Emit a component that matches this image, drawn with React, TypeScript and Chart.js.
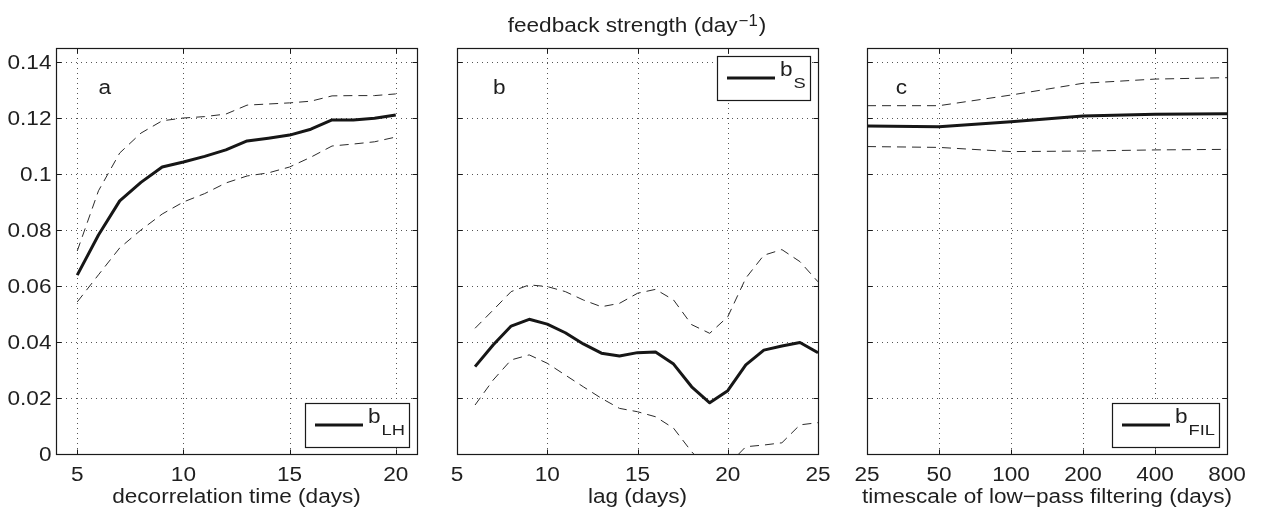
import React, { useEffect, useRef } from "react";
import { Chart, registerables } from "chart.js";

Chart.register(...registerables);

// ---------------- data ----------------
const yTickValues = [0, 0.02, 0.04, 0.06, 0.08, 0.1, 0.12, 0.14];
const yTickLabels = ["0", "0.02", "0.04", "0.06", "0.08", "0.1", "0.12", "0.14"];

// panel a
const decorrelationTime = [5, 6, 7, 8, 9, 10, 11, 12, 13, 14, 15, 16, 17, 18, 19, 20];
const bLH = [0.0639, 0.0782, 0.0904, 0.0970, 0.1025, 0.1043, 0.1063, 0.1086, 0.1118, 0.1128, 0.1139, 0.1160, 0.1193, 0.1193, 0.1199, 0.1211];
const bLHUpper = [0.0725, 0.0940, 0.1075, 0.1146, 0.1190, 0.1200, 0.1205, 0.1214, 0.1246, 0.1250, 0.1254, 0.1260, 0.1279, 0.1280, 0.1280, 0.1286];
const bLHLower = [0.0543, 0.0640, 0.0736, 0.0800, 0.0857, 0.0900, 0.0930, 0.0968, 0.0993, 0.1004, 0.1025, 0.1060, 0.1100, 0.1107, 0.1115, 0.1132];
const decorrelationTicks = [5, 10, 15, 20];
const decorrelationTickLabels = ["5", "10", "15", "20"];

// panel b
const lagDays = [6, 7, 8, 9, 10, 11, 12, 13, 14, 15, 16, 17, 18, 19, 20, 21, 22, 23, 24, 25];
const bS = [0.0312, 0.0389, 0.0457, 0.0481, 0.0464, 0.0433, 0.0393, 0.0360, 0.0350, 0.0362, 0.0364, 0.0321, 0.0240, 0.0183, 0.0226, 0.0318, 0.0371, 0.0386, 0.0398, 0.0362];
const bSUpper = [0.0449, 0.0514, 0.0580, 0.0604, 0.0598, 0.0580, 0.0550, 0.0526, 0.0538, 0.0574, 0.0588, 0.0550, 0.0462, 0.0431, 0.0490, 0.0628, 0.0710, 0.0730, 0.0687, 0.0615];
const bSLower = [0.0175, 0.0264, 0.0336, 0.0354, 0.0324, 0.0282, 0.0240, 0.0199, 0.0163, 0.0151, 0.0133, 0.0092, 0.0008, -0.0060, -0.0040, 0.0026, 0.0032, 0.0040, 0.0104, 0.0112];
const lagTicks = [5, 10, 15, 20, 25];
const lagTickLabels = ["5", "10", "15", "20", "25"];

// panel c
const filterTimescale = [25, 50, 100, 200, 400, 800];
const bFIL = [0.1171, 0.1169, 0.1187, 0.1207, 0.1213, 0.1215];
const bFILUpper = [0.1244, 0.1244, 0.1282, 0.1324, 0.1339, 0.1344];
const bFILLower = [0.1098, 0.1095, 0.1080, 0.1082, 0.1086, 0.1088];
const filterTicks = [25, 50, 100, 200, 400, 800];
const filterTickLabels = ["25", "50", "100", "200", "400", "800"];

// ---------------- layout / style ----------------
const PAGE_W = 1262;
const PAGE_H = 510;
const PLOT_TOP = 48;
const PLOT_BOTTOM = 454;
const FONT = '"Liberation Sans", Arial, Helvetica, sans-serif';
const SX = 1.13;
const TEXT = "#1f1f1f";

type Panel = {
  id: string;
  canvasLeft: number;
  canvasWidth: number;
  plotLeft: number;
  plotRight: number;
  xType: "linear" | "logarithmic";
  xMin: number;
  xMax: number;
  xTicks: number[];
  xTickLabels: string[];
  xTitle: string;
  yLabels: boolean;
  letter: string;
  letterX: number;
  letterY: number;
  legendSub: string;
  legendAt: "top" | "bottom";
  x: number[];
  mean: number[];
  upper: number[];
  lower: number[];
  mainTitle: boolean;
};

const panels: Panel[] = [
  {
    id: "a", canvasLeft: 0, canvasWidth: 430, plotLeft: 56, plotRight: 417,
    xType: "linear", xMin: 4, xMax: 21, xTicks: decorrelationTicks, xTickLabels: decorrelationTickLabels,
    xTitle: "decorrelation time (days)", yLabels: true, letter: "a", letterX: 6, letterY: 0.1286,
    legendSub: "LH", legendAt: "bottom", x: decorrelationTime, mean: bLH, upper: bLHUpper, lower: bLHLower,
    mainTitle: false,
  },
  {
    id: "b", canvasLeft: 430, canvasWidth: 410, plotLeft: 457, plotRight: 818,
    xType: "linear", xMin: 5, xMax: 25, xTicks: lagTicks, xTickLabels: lagTickLabels,
    xTitle: "lag (days)", yLabels: false, letter: "b", letterX: 7, letterY: 0.1286,
    legendSub: "S", legendAt: "top", x: lagDays, mean: bS, upper: bSUpper, lower: bSLower,
    mainTitle: true,
  },
  {
    id: "c", canvasLeft: 840, canvasWidth: 422, plotLeft: 867, plotRight: 1227,
    xType: "logarithmic", xMin: 25, xMax: 800, xTicks: filterTicks, xTickLabels: filterTickLabels,
    xTitle: "timescale of low\u2212pass filtering (days)", yLabels: false, letter: "c", letterX: 33, letterY: 0.1286,
    legendSub: "FIL", legendAt: "bottom", x: filterTimescale, mean: bFIL, upper: bFILUpper, lower: bFILLower,
    mainTitle: false,
  },
];

function drawText(
  ctx: CanvasRenderingContext2D, s: string, x: number, y: number,
  size: number, align: CanvasTextAlign, sx: number = SX
) {
  ctx.save();
  ctx.font = `${size}px ${FONT}`;
  ctx.fillStyle = TEXT;
  ctx.textAlign = align;
  ctx.textBaseline = "alphabetic";
  ctx.translate(x, y);
  ctx.scale(sx, 1);
  ctx.fillText(s, 0, 0);
  ctx.restore();
}

function measure(ctx: CanvasRenderingContext2D, s: string, size: number, sx: number = SX) {
  ctx.save();
  ctx.font = `${size}px ${FONT}`;
  const w = ctx.measureText(s).width * sx;
  ctx.restore();
  return w;
}

function makePlugin(p: Panel) {
  return {
    id: "matlabLook" + p.id,
    beforeDatasetsDraw(chart: any) {
      const { ctx, chartArea: ca } = chart;
      const xs = chart.scales.x;
      const ys = chart.scales.y;
      ctx.save();
      ctx.fillStyle = "#ffffff";
      ctx.fillRect(ca.left, ca.top, ca.right - ca.left, ca.bottom - ca.top);
      ctx.strokeStyle = "#555555";
      ctx.lineWidth = 1;
      ctx.setLineDash([1, 4]);
      for (const t of p.xTicks) {
        const px = Math.round(xs.getPixelForValue(t)) + 0.5;
        ctx.beginPath();
        ctx.moveTo(px, ca.top);
        ctx.lineTo(px, ca.bottom);
        ctx.stroke();
      }
      for (const t of yTickValues) {
        const py = Math.round(ys.getPixelForValue(t)) + 0.5;
        ctx.beginPath();
        ctx.moveTo(ca.left, py);
        ctx.lineTo(ca.right, py);
        ctx.stroke();
      }
      ctx.restore();
    },
    afterDatasetsDraw(chart: any) {
      const { ctx, chartArea: ca } = chart;
      const xs = chart.scales.x;
      const ys = chart.scales.y;
      const L = Math.round(ca.left) + 0.5;
      const R = Math.round(ca.right) + 0.5;
      const T = Math.round(ca.top) + 0.5;
      const B = Math.round(ca.bottom) + 0.5;

      // axes box
      ctx.save();
      ctx.strokeStyle = "#1a1a1a";
      ctx.lineWidth = 1.2;
      ctx.setLineDash([]);
      ctx.strokeRect(L, T, R - L, B - T);

      // inward tick marks
      ctx.lineWidth = 1;
      const TL = 5;
      for (const t of p.xTicks) {
        const px = Math.round(xs.getPixelForValue(t)) + 0.5;
        ctx.beginPath();
        ctx.moveTo(px, B); ctx.lineTo(px, B - TL);
        ctx.moveTo(px, T); ctx.lineTo(px, T + TL);
        ctx.stroke();
      }
      for (const t of yTickValues) {
        const py = Math.round(ys.getPixelForValue(t)) + 0.5;
        ctx.beginPath();
        ctx.moveTo(L, py); ctx.lineTo(L + TL, py);
        ctx.moveTo(R, py); ctx.lineTo(R - TL, py);
        ctx.stroke();
      }
      ctx.restore();

      // tick labels
      p.xTicks.forEach((t, i) => {
        drawText(ctx, p.xTickLabels[i], xs.getPixelForValue(t), 481, 20, "center");
      });
      if (p.yLabels) {
        yTickValues.forEach((t, i) => {
          drawText(ctx, yTickLabels[i], ca.left - 4.5, ys.getPixelForValue(t) + 7.2, 20, "right");
        });
      }

      // axis title
      drawText(ctx, p.xTitle, (ca.left + ca.right) / 2, 503, 20, "center");

      // panel letter
      drawText(ctx, p.letter, xs.getPixelForValue(p.letterX), ys.getPixelForValue(p.letterY), 20, "left");

      // legend
      const bSize = 20, subSize = 15, subSX = 1.22;
      const bW = measure(ctx, "b", bSize);
      const subW = measure(ctx, p.legendSub, subSize, subSX);
      const boxW = 10 + 48 + 5 + bW + 1 + subW + 4;
      const boxH = 44;
      const right = Math.round(ca.right) - 8;
      const left = Math.round(right - boxW);
      const top = p.legendAt === "bottom" ? Math.round(ca.bottom) - 7 - boxH : Math.round(ca.top) + 8;
      ctx.save();
      ctx.fillStyle = "#ffffff";
      ctx.fillRect(left, top, right - left, boxH);
      ctx.strokeStyle = "#1a1a1a";
      ctx.lineWidth = 1.2;
      ctx.strokeRect(left + 0.5, top + 0.5, right - left, boxH);
      const cy = top + boxH / 2;
      ctx.strokeStyle = "#161616";
      ctx.lineWidth = 3;
      ctx.beginPath();
      ctx.moveTo(left + 10, cy);
      ctx.lineTo(left + 58, cy);
      ctx.stroke();
      ctx.restore();
      drawText(ctx, "b", left + 63, cy - 2, bSize, "left");
      drawText(ctx, p.legendSub, left + 63 + bW + 1, cy + 9.5, subSize, "left", subSX);

      // main title
      if (p.mainTitle) {
        const off = -p.canvasLeft;
        const part1 = "feedback strength (day";
        const sup = "\u22121";
        const part2 = ")";
        const w1 = measure(ctx, part1, 20);
        const w2 = measure(ctx, sup, 16, 1.05);
        const w3 = measure(ctx, part2, 20);
        const total = w1 + 1 + w2 + 1 + w3;
        let x0 = 637 + off - total / 2;
        drawText(ctx, part1, x0, 32, 20, "left");
        x0 += w1 + 1;
        drawText(ctx, sup, x0, 26, 16, "left", 1.05);
        x0 += w2 + 1;
        drawText(ctx, part2, x0, 32, 20, "left");
      }
    },
  };
}

function PanelChart({ p }: { p: Panel }) {
  const ref = useRef<HTMLCanvasElement | null>(null);
  useEffect(() => {
    if (!ref.current) return;
    const toPts = (ys: number[]) => p.x.map((xv, i) => ({ x: xv, y: ys[i] }));
    const dashed = {
      borderColor: "#2b2b2b",
      borderWidth: 1,
      borderDash: [9, 6],
      pointRadius: 0,
      fill: false,
      tension: 0,
    };
    const chart = new Chart(ref.current, {
      type: "line",
      data: {
        datasets: [
          { ...dashed, data: toPts(p.upper) },
          { ...dashed, data: toPts(p.lower) },
          {
            data: toPts(p.mean),
            borderColor: "#161616",
            borderWidth: 3,
            pointRadius: 0,
            fill: false,
            tension: 0,
            borderJoinStyle: "round",
          },
        ],
      } as any,
      options: {
        animation: false,
        responsive: false,
        maintainAspectRatio: false,
        devicePixelRatio: 1,
        events: [],
        layout: {
          padding: {
            left: p.plotLeft - p.canvasLeft,
            right: p.canvasLeft + p.canvasWidth - p.plotRight,
            top: PLOT_TOP,
            bottom: PAGE_H - PLOT_BOTTOM,
          },
        },
        plugins: { legend: { display: false }, tooltip: { enabled: false } },
        scales: {
          x: { type: p.xType, min: p.xMin, max: p.xMax, display: false },
          y: { type: "linear", min: 0, max: 0.145, display: false },
        },
      } as any,
      plugins: [makePlugin(p)],
    });
    return () => chart.destroy();
  }, [p]);
  return (
    <canvas
      ref={ref}
      width={p.canvasWidth}
      height={PAGE_H}
      style={{ position: "absolute", left: p.canvasLeft, top: 0, width: p.canvasWidth, height: PAGE_H }}
    />
  );
}

export default function App() {
  return (
    <div
      style={{
        position: "absolute",
        left: 0,
        top: 0,
        width: PAGE_W,
        height: PAGE_H,
        background: "#ffffff",
        overflow: "hidden",
      }}
    >
      {panels.map((p) => (
        <PanelChart key={p.id} p={p} />
      ))}
    </div>
  );
}
